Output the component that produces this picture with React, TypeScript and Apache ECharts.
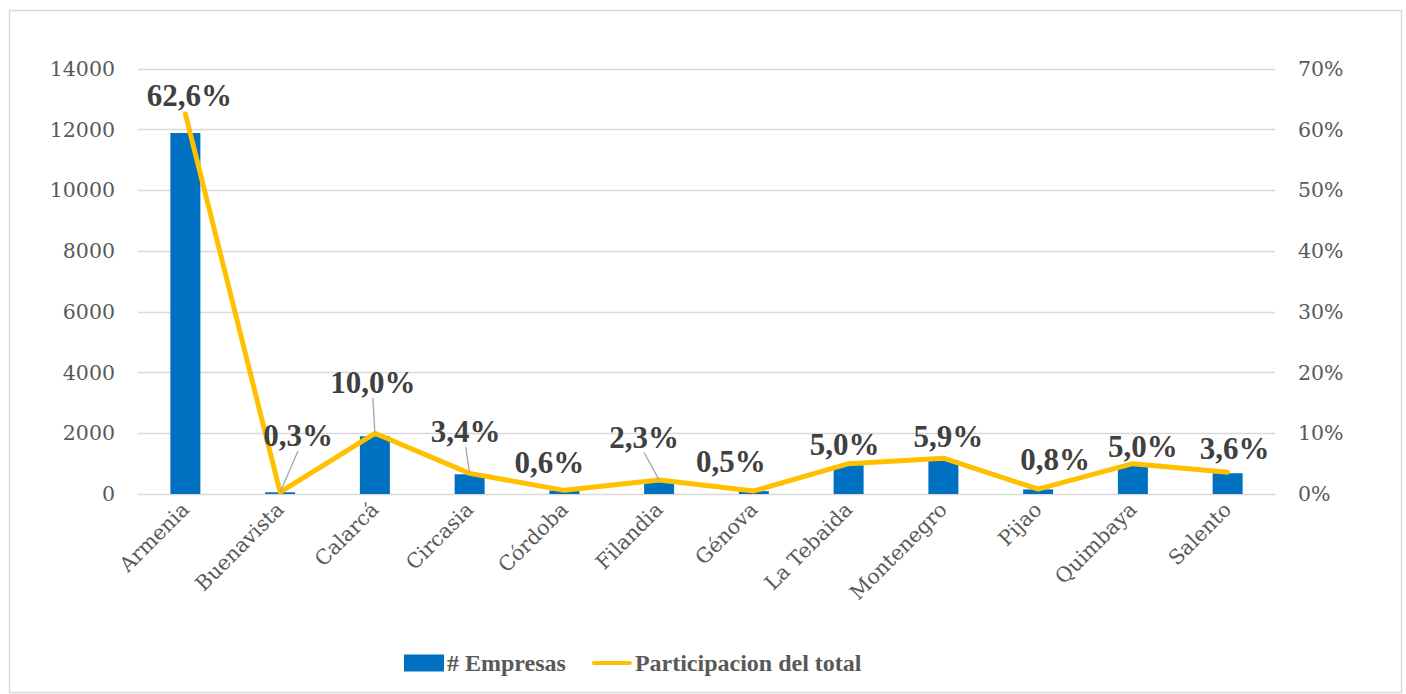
import React, { useEffect, useRef } from "react";
import * as echarts from "echarts";

const categories = ["Armenia", "Buenavista", "Calarcá", "Circasia", "Córdoba", "Filandia", "Génova", "La Tebaida", "Montenegro", "Pijao", "Quimbaya", "Salento"];
const empresas = [11890, 57, 1900, 650, 114, 437, 95, 950, 1120, 152, 950, 684];
const participacion = [62.6, 0.3, 10.0, 3.4, 0.6, 2.3, 0.5, 5.0, 5.9, 0.8, 5.0, 3.6];
const labelShift: number[][] = [[4, -18], [18, -57], [-2, -51], [-4, -42], [-15, -28], [-15, -43], [-23, -29], [-4, -19], [5, -22], [17, -30], [10, -17], [7, -24]];
const withLeader = [false, true, true, true, false, true, false, false, false, false, false, false];

export default function App() {
  const ref = useRef<HTMLDivElement>(null);
  useEffect(() => {
    document.body.style.margin = "0";
    const chart = echarts.init(ref.current!, null, { renderer: "svg" });
    const axisFont = { fontFamily: "DejaVu Serif", fontSize: 20.5, color: "#595959" };
    chart.setOption({
      animation: false,
      backgroundColor: "#ffffff",
      graphic: [
        { type: "rect", shape: { x: 9.5, y: 10.5, width: 1392, height: 682 }, style: { fill: "none", stroke: "#d9d9d9", lineWidth: 1.5 }, silent: true },
      ],
      grid: { left: 138, right: 131, top: 69, bottom: 200 },
      legend: {
        left: 399,
        top: 646,
        itemGap: 26,
        itemWidth: 40,
        itemHeight: 17,
        textStyle: { fontFamily: "Liberation Serif", fontWeight: "bold", fontSize: 24, color: "#595959", padding: [0, 0, 0, -2] },
        data: [
          { name: "# Empresas", icon: "rect", itemStyle: { color: "#0070C0", opacity: 1 } },
          { name: "Participacion del total", icon: "path://M2,7 L38,7 A2,2 0 0 1 38,11 L2,11 A2,2 0 0 1 2,7 Z", itemStyle: { color: "#FFC000", opacity: 1 } },
        ],
      },
      xAxis: {
        type: "category",
        data: categories,
        axisLine: { lineStyle: { color: "#d9d9d9" } },
        axisTick: { show: false },
        axisLabel: { ...axisFont, rotate: 45, margin: 12, interval: 0 },
      },
      yAxis: [
        {
          type: "value",
          min: 0,
          max: 14000,
          interval: 2000,
          axisLabel: { ...axisFont, margin: 23, formatter: (v: number) => String(v) },
          splitLine: { lineStyle: { color: "#d9d9d9", width: 1.3 } },
          axisLine: { show: false },
        },
        {
          type: "value",
          min: 0,
          max: 70,
          interval: 10,
          axisLabel: { ...axisFont, margin: 23, formatter: "{value}%" },
          splitLine: { show: false },
          axisLine: { show: false },
        },
      ],
      series: [
        {
          name: "# Empresas",
          type: "bar",
          data: empresas,
          barWidth: 30,
          itemStyle: { color: "#0070C0" },
        },
        {
          name: "Participacion del total",
          type: "line",
          yAxisIndex: 1,
          symbol: "circle",
          symbolSize: 1,
          itemStyle: { color: "rgba(255,192,0,0)" },
          lineStyle: { color: "#FFC000", width: 5, cap: "round", join: "round" },
          data: participacion.map((v, i) => ({
            value: v,
            labelLine: { show: withLeader[i] },
          })),
          label: {
            show: true,
            position: "inside",
            fontFamily: "Liberation Serif",
            fontWeight: "bold",
            fontSize: 31,
            color: "#404040",
            formatter: (p: any) => p.value.toFixed(1).replace(".", ",") + "%",
          },
          labelLine: { show: false, lineStyle: { color: "#a6a6a6", width: 1.3 } },
          labelLayout: (p: any) => ({ dx: labelShift[p.dataIndex][0], dy: labelShift[p.dataIndex][1] }),
        },
      ],
    });
    return () => chart.dispose();
  }, []);
  return <div ref={ref} style={{ width: 1406, height: 694 }} />;
}
